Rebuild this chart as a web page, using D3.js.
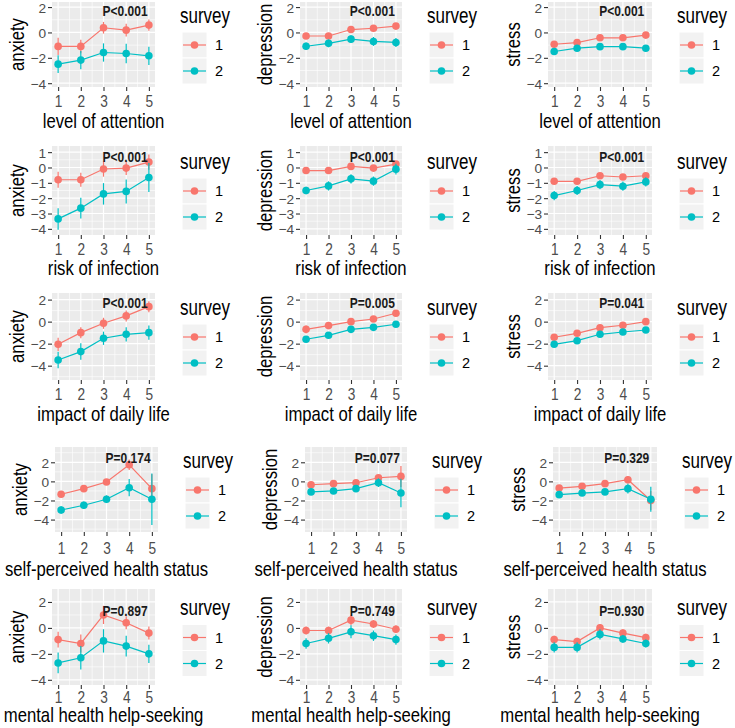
<!DOCTYPE html>
<html><head><meta charset="utf-8">
<script src="https://cdn.jsdelivr.net/npm/d3@7"></script>
<style>body{margin:0;background:#fff} svg{display:block}</style>
</head><body><svg id="c" width="735" height="728"></svg>
<script>
// ---------- data ----------
const xValues = [1, 2, 3, 4, 5];
const xTickLabels = ["1", "2", "3", "4", "5"];
const factorNames = ["level of attention", "risk of infection", "impact of daily life",
  "self-perceived health status", "mental health help-seeking"];
const outcomeNames = ["anxiety", "depression", "stress"];
const surveyLabels = ["1", "2"];
const pLabels = [
  ["P<0.001", "P<0.001", "P<0.001"],
  ["P<0.001", "P<0.001", "P<0.001"],
  ["P<0.001", "P=0.005", "P=0.041"],
  ["P=0.174", "P=0.077", "P=0.329"],
  ["P=0.897", "P=0.749", "P=0.930"]
];
const yTickValues = [[-4, -2, 0, 2], [-4, -3, -2, -1, 0, 1], [-4, -2, 0, 2], [-4, -2, 0, 2], [-4, -2, 0, 2]];
const yDomains = [[-4.3, 2.4], [-4.4, 1.4], [-5.3, 2.6], [-5.3, 3.6], [-4.4, 3.0]];
const pTextY = [1.7, 0.7, 1.7, 2.5, 1.3];

// means per row: [anxiety, depression, stress]
const attentionS1 = [[-1.1, -1.1, 0.37, 0.18, 0.58], [-0.28, -0.28, 0.23, 0.33, 0.5], [-0.93, -0.8, -0.42, -0.42, -0.21]];
const attentionS2 = [[-2.5, -2.18, -1.58, -1.66, -1.84], [-1.09, -0.86, -0.53, -0.71, -0.79], [-1.5, -1.24, -1.12, -1.12, -1.24]];
const infectionS1 = [[-0.8, -0.8, -0.1, -0.04, 0.35], [-0.2, -0.2, 0.07, -0.04, 0.22], [-0.9, -0.9, -0.54, -0.62, -0.54]];
const infectionS2 = [[-3.35, -2.65, -1.72, -1.56, -0.65], [-1.5, -1.2, -0.74, -0.89, -0.11], [-1.83, -1.5, -1.12, -1.22, -0.94]];
const dailyLifeS1 = [[-2.06, -1.0, -0.15, 0.52, 1.36], [-0.7, -0.36, 0.0, 0.24, 0.76], [-1.42, -1.06, -0.55, -0.33, 0.0]];
const dailyLifeS2 = [[-3.48, -2.72, -1.51, -1.15, -1.0], [-1.6, -1.24, -0.7, -0.52, -0.24], [-2.06, -1.73, -1.15, -0.94, -0.76]];
const healthS1 = [[-1.35, -0.76, -0.07, 1.74, -0.76], [-0.35, -0.24, -0.14, 0.38, 0.52], [-0.7, -0.52, -0.24, 0.17, -2.0]];
const healthS2 = [[-3.0, -2.5, -1.87, -0.66, -1.87], [-1.1, -1.0, -0.76, -0.14, -1.22], [-1.39, -1.22, -1.1, -0.76, -1.87]];
const helpS1 = [[-0.9, -1.2, 1.0, 0.4, -0.4], [-0.2, -0.2, 0.6, 0.3, -0.1], [-0.9, -1.05, 0.0, -0.4, -0.75]];
const helpS2 = [[-2.7, -2.3, -1.0, -1.4, -2.0], [-1.2, -0.8, -0.3, -0.6, -0.9], [-1.5, -1.5, -0.5, -0.85, -1.2]];

// error half-widths per row
const attentionE1 = [[0.68, 0.53, 0.46, 0.5, 0.45], [0.2, 0.2, 0.2, 0.15, 0.15], [0.2, 0.15, 0.15, 0.15, 0.2]];
const attentionE2 = [[0.7, 0.72, 0.72, 0.76, 0.72], [0.3, 0.3, 0.3, 0.35, 0.35], [0.25, 0.25, 0.2, 0.25, 0.25]];
const infectionE1 = [[0.52, 0.45, 0.5, 0.45, 0.5], [0.2, 0.2, 0.2, 0.2, 0.2], [0.15, 0.15, 0.15, 0.15, 0.15]];
const infectionE2 = [[0.7, 0.68, 0.7, 0.78, 0.95], [0.25, 0.3, 0.3, 0.3, 0.35], [0.3, 0.3, 0.3, 0.3, 0.3]];
const dailyLifeE1 = [[0.6, 0.5, 0.5, 0.5, 0.5], [0.35, 0.25, 0.2, 0.2, 0.2], [0.2, 0.2, 0.2, 0.2, 0.2]];
const dailyLifeE2 = [[0.75, 0.75, 0.6, 0.65, 0.65], [0.25, 0.25, 0.25, 0.25, 0.25], [0.25, 0.25, 0.25, 0.25, 0.25]];
const healthE1 = [[0.3, 0.25, 0.3, 0.55, 1.5], [0.15, 0.15, 0.15, 0.3, 1.1], [0.15, 0.15, 0.15, 0.4, 1.0]];
const healthE2 = [[0.4, 0.4, 0.4, 0.9, 2.7], [0.2, 0.2, 0.2, 0.45, 1.5], [0.2, 0.2, 0.2, 0.5, 1.3]];
const helpE1 = [[0.6, 0.7, 0.7, 0.5, 0.5], [0.3, 0.3, 0.4, 0.3, 0.3], [0.3, 0.3, 0.3, 0.3, 0.3]];
const helpE2 = [[0.8, 0.9, 0.9, 0.8, 0.7], [0.4, 0.4, 0.5, 0.4, 0.4], [0.4, 0.4, 0.4, 0.3, 0.3]];

const means1 = [attentionS1, infectionS1, dailyLifeS1, healthS1, helpS1];
const means2 = [attentionS2, infectionS2, dailyLifeS2, healthS2, helpS2];
const errs1 = [attentionE1, infectionE1, dailyLifeE1, healthE1, helpE1];
const errs2 = [attentionE2, infectionE2, dailyLifeE2, healthE2, helpE2];

// ---------- layout ----------
const colors = ["#F8766D", "#00BFC4"];
const SY = 1.25;
const FONT = "'Liberation Sans', Arial, sans-serif";
const rowGeom = [
  {top: 2, bottom: 87, tickOff: 20, titleOff: 41},
  {top: 146, bottom: 235, tickOff: 20, titleOff: 40},
  {top: 293, bottom: 380, tickOff: 20, titleOff: 41},
  {top: 447, bottom: 532, tickOff: 22, titleOff: 44},
  {top: 589, bottom: 685, tickOff: 18, titleOff: 37}
];
const colGeom = [
  [[52, 155], [300, 402], [548, 652]],
  [[52, 155], [300, 402], [548, 652]],
  [[52, 155], [300, 402], [548, 652]],
  [[55, 158], [305, 407], [553, 657]],
  [[52, 155], [300, 402], [548, 652]]
];

const svg = d3.select("#c");

function txt(parent, x, y, s, o) {
  o = o || {};
  const sy = o.sy == null ? SY : o.sy;
  return parent.append("text")
    .attr("transform", `translate(${x},${y}) rotate(${o.rotate || 0}) scale(1,${sy})`)
    .attr("text-anchor", o.anchor || "start")
    .attr("font-size", o.size || 13)
    .attr("font-family", FONT)
    .attr("font-weight", o.weight || "normal")
    .attr("fill", o.fill || "#000")
    .text(s);
}

for (let r = 0; r < 5; r++) {
  for (let c = 0; c < 3; c++) {
    const {top, bottom, tickOff, titleOff} = rowGeom[r];
    const [left, right] = colGeom[r][c];
    const g = svg.append("g");
    const x = d3.scaleLinear().domain([0.73, 5.27]).range([left, right]);
    const y = d3.scaleLinear().domain(yDomains[r]).range([bottom, top]);

    // panel
    g.append("rect").attr("x", left).attr("y", top).attr("width", right - left).attr("height", bottom - top).attr("fill", "#EBEBEB");
    // minor grid
    const yt = yTickValues[r];
    const step = yt[1] - yt[0];
    const yMinor = [];
    for (let v = yt[0] - step / 2; v <= yt[yt.length - 1] + step; v += step) {
      if (v > yDomains[r][0] && v < yDomains[r][1]) yMinor.push(v);
    }
    g.selectAll(".ymin").data(yMinor).join("line")
      .attr("x1", left).attr("x2", right).attr("y1", d => y(d)).attr("y2", d => y(d))
      .attr("stroke", "#fff").attr("stroke-width", 0.6);
    g.selectAll(".xmin").data([1.5, 2.5, 3.5, 4.5]).join("line")
      .attr("y1", top).attr("y2", bottom).attr("x1", d => x(d)).attr("x2", d => x(d))
      .attr("stroke", "#fff").attr("stroke-width", 0.6);
    // major grid
    g.selectAll(".ymaj").data(yt).join("line")
      .attr("x1", left).attr("x2", right).attr("y1", d => y(d)).attr("y2", d => y(d))
      .attr("stroke", "#fff").attr("stroke-width", 1.2);
    g.selectAll(".xmaj").data(xValues).join("line")
      .attr("y1", top).attr("y2", bottom).attr("x1", d => x(d)).attr("x2", d => x(d))
      .attr("stroke", "#fff").attr("stroke-width", 1.2);

    // axes
    const xa = g.append("g").attr("transform", `translate(0,${bottom})`)
      .call(d3.axisBottom(x).tickValues(xValues).tickFormat((d, i) => xTickLabels[i]).tickSize(4));
    const ya = g.append("g").attr("transform", `translate(${left},0)`)
      .call(d3.axisLeft(y).tickValues(yt).tickFormat(d => d < 0 ? "\u2212" + Math.abs(d) : String(d)).tickSize(4));
    [xa, ya].forEach(a => {
      a.select(".domain").remove();
      a.selectAll(".tick line").attr("stroke", "#333").attr("stroke-width", 1.1);
      a.selectAll(".tick text").attr("fill", "#4D4D4D").attr("font-size", 13.7).attr("font-family", FONT);
    });
    xa.selectAll(".tick text").attr("y", null).attr("dy", null).attr("transform", `translate(0,${tickOff}) scale(1,${SY})`);
    ya.selectAll(".tick text").attr("x", null).attr("dy", null).attr("text-anchor", "end")
      .attr("transform", `translate(-6,5)`);

    // axis titles
    txt(g, (left + right) / 2, bottom + titleOff, factorNames[r], {size: 16.7, anchor: "middle"});
    txt(g, left - 28, (top + bottom) / 2, outcomeNames[c], {size: 16.7, anchor: "middle", rotate: -90});

    // series
    const series = [
      {m: means1[r][c], e: errs1[r][c], col: colors[0]},
      {m: means2[r][c], e: errs2[r][c], col: colors[1]}
    ];
    const line = d3.line().x((d, i) => x(xValues[i])).y(d => y(d));
    series.forEach(s => {
      g.append("path").attr("d", line(s.m)).attr("fill", "none").attr("stroke", s.col).attr("stroke-width", 1.2);
    });
    series.forEach(s => {
      g.selectAll(null).data(s.m).join("line")
        .attr("x1", (d, i) => x(xValues[i])).attr("x2", (d, i) => x(xValues[i]))
        .attr("y1", (d, i) => y(d - s.e[i])).attr("y2", (d, i) => y(d + s.e[i]))
        .attr("stroke", s.col).attr("stroke-width", 1.2);
      g.selectAll(null).data(s.m).join("circle")
        .attr("cx", (d, i) => x(xValues[i])).attr("cy", d => y(d)).attr("r", 3.8).attr("fill", s.col);
    });

    // p label
    txt(g, x(3.95), y(pTextY[r]) + 5, pLabels[r][c], {size: 12, anchor: "middle", weight: "bold", fill: "#1a1a1a"});

    // legend
    const lx = right + 27;
    const ky = (top + bottom) / 2 - 12.5;
    txt(g, lx - 2, ky - 9.5, "survey", {size: 17});
    surveyLabels.forEach((lab, i) => {
      const yy = ky + i * 26;
      g.append("rect").attr("x", lx).attr("y", yy).attr("width", 25).attr("height", 26)
        .attr("fill", "#F2F2F2").attr("stroke", "#fff").attr("stroke-width", 1);
      g.append("line").attr("x1", lx + 1).attr("x2", lx + 24).attr("y1", yy + 13).attr("y2", yy + 13)
        .attr("stroke", colors[i]).attr("stroke-width", 1.2);
      g.append("circle").attr("cx", lx + 12.5).attr("cy", yy + 13).attr("r", 3.8).attr("fill", colors[i]);
      txt(g, lx + 33, yy + 18, lab, {size: 14.5, sy: 1});
    });
  }
}
</script>
</body></html>
